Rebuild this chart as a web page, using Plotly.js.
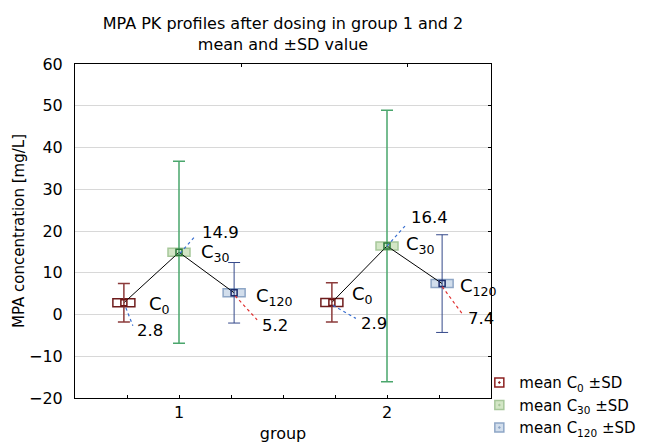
<!DOCTYPE html>
<html>
<head>
<meta charset="utf-8">
<script src="https://cdn.plot.ly/plotly-3.0.1.min.js"></script>
<style>html,body{margin:0;padding:0;background:#fff;}#chart{width:646px;height:444px;}</style>
</head>
<body>
<div id="chart"></div>
<script>
// ---- data ----
const groups = [1, 2];
const groupTickLabels = ['1', '2'];
const seriesLabels = ['C<sub>0</sub>', 'C<sub>30</sub>', 'C<sub>120</sub>'];
const legendLabels = ['mean C<sub>0</sub> ±SD', 'mean C<sub>30</sub> ±SD', 'mean C<sub>120</sub> ±SD'];
const meanC0 = [2.8, 2.9];
const sdC0 = [4.6, 4.7];
const meanC30 = [14.9, 16.4];
const sdC30 = [21.8, 32.5];
const meanC120 = [5.2, 7.4];
const sdC120 = [7.25, 11.7];

// ---- style ----
const FONT = 'DejaVu Sans, Liberation Sans, Arial, sans-serif';
const means = [meanC0, meanC30, meanC120];
const sds = [sdC0, sdC30, sdC120];
const offsets = [-0.265, 0, 0.265];
const barColors = ['#8c3b3b', '#4aa66c', '#34488a'];
const barWidths = [1.5, 1.5, 1];
const markColors = ['#6e1616', '#2c7a3a', '#1c2c6c'];
const boxFill = ['#ffffff', '#d3e6c6', '#d2deec'];
const boxLine = ['#6e1c1c', '#a7c79a', '#8ea6c6'];
// label offsets in px (dx right, dy down) relative to mean point, per [series][group]
const nameOff = [[[23, 2], [18, -7]], [[20, 1], [17, -1]], [[20, 4], [16, 3]]];
const valOff = [[[11, 28], [27, 21]], [[21, -20], [22, -29]], [[26, 33], [24, 35]]];
const leadOff = [[[2, 5, 9, 23], [1, 3, 24, 16]], [[1, 1, 16, -16], [0, 0, 18, -20]], [[1, 3, 23, 27], [0, 3, 20, 30]]];
const leadColor = ['#3a6fd0', '#3a6fd0', '#e03030'];

const traces = [];
// connecting mean lines per group
const lx = [], ly = [];
groups.forEach((g, gi) => {
  means.forEach((m, si) => { lx.push(g + offsets[si]); ly.push(m[gi]); });
  lx.push(null); ly.push(null);
});
traces.push({x: lx, y: ly, mode: 'lines', line: {color: '#000', width: 1}, showlegend: false, hoverinfo: 'skip'});

const shapes = [];
const annotations = [];
means.forEach((m, si) => {
  const xs = groups.map(g => g + offsets[si]);
  traces.push({
    x: xs, y: m, mode: 'markers', showlegend: false,
    marker: {symbol: 'square-open', size: 6, color: markColors[si], line: {width: 1.5}},
    error_y: {type: 'data', array: sds[si], visible: true, color: barColors[si], thickness: barWidths[si], width: 6}
  });
  // legend entry
  traces.push({
    x: [null], y: [null], mode: 'markers', name: legendLabels[si],
    marker: {symbol: 'square-dot', size: 9, color: boxFill[si], line: {color: si === 0 ? '#8c2020' : boxLine[si], width: 1.5}}
  });
  xs.forEach((x, gi) => {
    shapes.push({type: 'rect', layer: 'between', xref: 'x', yref: 'y',
      xsizemode: 'pixel', ysizemode: 'pixel', xanchor: x, yanchor: m[gi],
      x0: -11, x1: 11, y0: -4, y1: 4,
      fillcolor: boxFill[si], line: {color: boxLine[si], width: 1.5}});
    const lo = leadOff[si][gi];
    shapes.push({type: 'line', layer: 'above', xref: 'x', yref: 'y',
      xsizemode: 'pixel', ysizemode: 'pixel', xanchor: x, yanchor: m[gi],
      x0: lo[0], y0: -lo[1], x1: lo[2], y1: -lo[3],
      line: {color: leadColor[si], width: 1.2, dash: 'dot'}});
    annotations.push({x: x, y: m[gi], xref: 'x', yref: 'y', text: seriesLabels[si], showarrow: false,
      xanchor: 'left', yanchor: 'middle', xshift: nameOff[si][gi][0], yshift: -nameOff[si][gi][1],
      font: {family: FONT, size: 18, color: '#000'}});
    annotations.push({x: x, y: m[gi], xref: 'x', yref: 'y', text: m[gi].toFixed(1), showarrow: false,
      xanchor: 'left', yanchor: 'middle', xshift: valOff[si][gi][0], yshift: -valOff[si][gi][1],
      font: {family: FONT, size: 16.5, color: '#000'}});
  });
});
// dummy traces to activate secondary axes (frame ticks)
traces.push({x: [], y: [], xaxis: 'x2', yaxis: 'y2', showlegend: false, hoverinfo: 'skip'});

const layout = {
  width: 646, height: 444,
  margin: {l: 75, r: 155, t: 64, b: 46, autoexpand: false},
  paper_bgcolor: '#fff', plot_bgcolor: '#fff',
  font: {family: FONT, size: 16, color: '#000'},
  title: {text: 'MPA PK profiles after dosing in group 1 and 2<br>mean and ±SD value',
    font: {family: FONT, size: 16, color: '#000'}, xref: 'paper', x: 0.5, xanchor: 'center',
    yref: 'container', y: 0.935, yanchor: 'top'},
  xaxis: {range: [0.5, 2.5], tickvals: groups, ticktext: groupTickLabels,
    ticks: 'inside', ticklen: 3, tickcolor: '#000', showgrid: false, zeroline: false,
    minor: {tick0: 0.5, dtick: 0.25, ticks: 'inside', ticklen: 3, tickcolor: '#000', showgrid: false},
    showline: true, linecolor: '#000', linewidth: 1, mirror: true,
    tickfont: {family: FONT, size: 16}, title: {text: 'group', font: {family: FONT, size: 16}, standoff: 6}},
  xaxis2: {overlaying: 'x', side: 'top', range: [0.5, 2.5], tickvals: [1.3, 2.1], ticks: 'inside', ticklen: 3,
    tickcolor: '#000', showticklabels: false, showgrid: false, zeroline: false, showline: false},
  yaxis: {range: [-20, 60], dtick: 10, tick0: 0, ticks: '', showgrid: true, gridcolor: '#d8d8d8', gridwidth: 1,
    zeroline: false, showline: true, linecolor: '#000', linewidth: 1, mirror: true,
    ticklabelstandoff: 8,
    tickfont: {family: FONT, size: 16},
    title: {text: 'MPA concentration [mg/L]', font: {family: FONT, size: 15}, standoff: 0}},
  yaxis2: {overlaying: 'y', side: 'right', range: [-20, 60], dtick: 10, tick0: 0, ticks: 'inside', ticklen: 3,
    tickcolor: '#000', showticklabels: false, showgrid: false, zeroline: false, showline: false},
  showlegend: true,
  legend: {xref: 'container', yref: 'container', x: 0.742, xanchor: 'left', y: 0.175, yanchor: 'top',
    bgcolor: 'rgba(0,0,0,0)', font: {family: FONT, size: 15}, itemwidth: 30, tracegroupgap: 0},
  shapes: shapes,
  annotations: annotations
};
Plotly.newPlot('chart', traces, layout, {displayModeBar: false, staticPlot: true});
</script>
</body>
</html>
